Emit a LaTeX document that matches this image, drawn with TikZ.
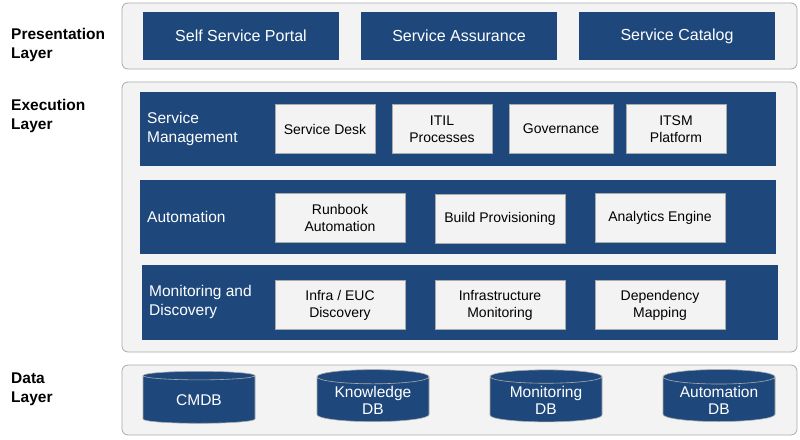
\documentclass[tikz,border=0pt]{standalone}
\usepackage{fontspec}
\setmainfont{Liberation Sans}
\usetikzlibrary{shapes.geometric}
\definecolor{db}{RGB}{30,72,124}
\definecolor{pg}{RGB}{243,243,243}
\definecolor{pb}{RGB}{170,170,170}
\begin{document}
\begin{tikzpicture}[x=1pt,y=-1pt,
 panel/.style={draw=pb,fill=pg,rounded corners=6pt,line width=0.8pt},
 dbox/.style={fill=db,text=white,font=\fontsize{16}{19}\selectfont,align=center},
 band/.style={fill=db},
 wbox/.style={fill=pg,draw=pb,line width=0.4pt,font=\fontsize{14}{17}\selectfont,align=center,minimum height=49pt,inner sep=1pt},
 blab/.style={text=white,font=\fontsize{15.5}{19}\selectfont,align=left,anchor=west,inner sep=0pt},
 llab/.style={font=\bfseries\fontsize{15.5}{19}\selectfont,align=left,anchor=west,inner sep=0pt},
 cyl/.style={cylinder,shape border rotate=90,aspect=0.18,fill=db,draw=pb,line width=0.6pt,text=white,
   minimum width=112pt,minimum height=52pt,font=\fontsize{15.5}{17}\selectfont,align=center,inner sep=1pt}]
\useasboundingbox (0,0) rectangle (800,439);
% panels
\draw[panel] (122,3) rectangle (797,69);
\draw[panel] (122,82) rectangle (797,352);
\draw[panel] (122,365) rectangle (797,435);
\node[llab] (pl) at (11,45) {Presentation\\Layer};
\node[llab] (el) at (11,116) {Execution\\Layer};
\node[llab] (dl) at (11,389) {Data\\Layer};
% presentation
\node[dbox,minimum width=196pt,minimum height=48pt] (p1) at (241,36) {Self Service Portal};
\node[dbox,minimum width=196pt,minimum height=48pt] (p2) at (459,36) {Service Assurance};
\node[dbox,minimum width=196pt,minimum height=48pt] (p3) at (677,36) {Service Catalog};
% bands
\fill[band] (140,92) rectangle (776,166);
\fill[band] (140,180) rectangle (776,254);
\fill[band] (142,265) rectangle (778,340);
\node[blab] (sm) at (147,129) {Service\\Management};
\node[blab] (au) at (147,217) {Automation};
\node[blab] (md) at (149,302) {Monitoring and\\Discovery};
\node[wbox,minimum width=100pt] (s1) at (325,129) {Service Desk};
\node[wbox,minimum width=100pt] (s2) at (442,129) {ITIL\\Processes};
\node[wbox,minimum width=104pt] (s3) at (561,129) {Governance};
\node[wbox,minimum width=100pt] (s4) at (676,129) {ITSM\\Platform};
\node[wbox,minimum width=130pt] (a1) at (340,218) {Runbook\\Automation};
\node[wbox,minimum width=130pt] (a2) at (500,219) {Build Provisioning};
\node[wbox,minimum width=130pt] (a3) at (660,218) {Analytics Engine};
\node[wbox,minimum width=130pt] (m1) at (340,305) {Infra / EUC\\Discovery};
\node[wbox,minimum width=130pt] (m2) at (500,305) {Infrastructure\\Monitoring};
\node[wbox,minimum width=130pt] (m3) at (660,305) {Dependency\\Mapping};
% data
\node[cyl] (c1) at (199,400) {CMDB};
\node[cyl] (c2) at (373,400) {Knowledge\\DB};
\node[cyl] (c3) at (546,400) {Monitoring\\DB};
\node[cyl] (c4) at (719,400) {Automation\\DB};
\end{tikzpicture}
\end{document}
